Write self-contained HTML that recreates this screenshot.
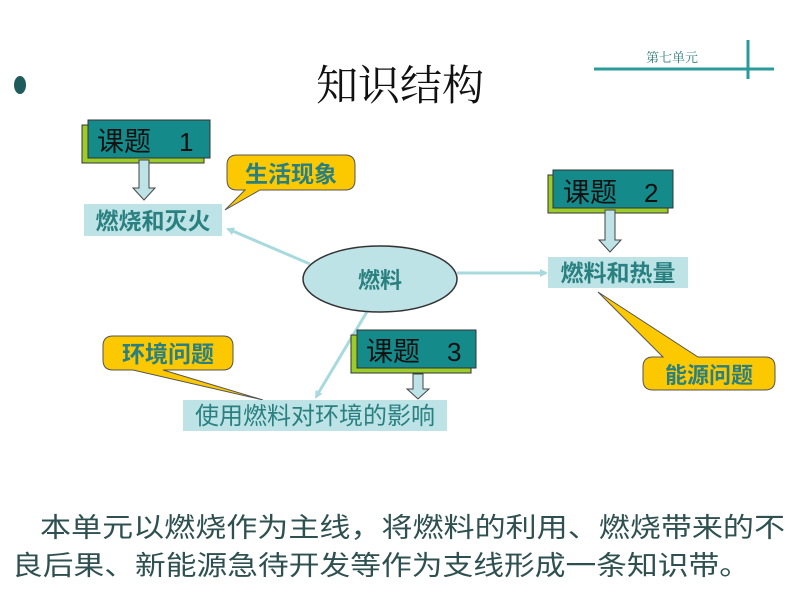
<!DOCTYPE html>
<html><head><meta charset="utf-8"><style>
html,body{margin:0;padding:0;background:#fff;width:800px;height:600px;overflow:hidden}
svg{display:block}
.cj{font-family:"Liberation Sans","Noto Sans CJK SC",sans-serif}
</style></head><body>
<svg width="800" height="600" viewBox="0 0 800 600" xmlns="http://www.w3.org/2000/svg" class="cj">
<defs>
<marker id="ah" markerWidth="8" markerHeight="8" refX="6" refY="4" orient="auto" markerUnits="userSpaceOnUse"><path d="M0,0 L8,4 L0,8 z" fill="#a8dadd"/></marker>
</defs>
<!-- header -->
<text x="672" y="62" font-size="13" fill="#2e7d7d" text-anchor="middle" style="font-family:'Noto Serif CJK SC',serif">第七单元</text>
<line x1="594" y1="69" x2="774" y2="69" stroke="#2a9a9a" stroke-width="3"/>
<line x1="748" y1="40" x2="748" y2="79" stroke="#2a9a9a" stroke-width="3"/>
<ellipse cx="20" cy="85" rx="6" ry="9" fill="#1e5b5b"/>
<text x="400" y="100" font-size="42" text-anchor="middle" fill="#111" style="font-family:'Noto Serif CJK SC',serif">知识结构</text>

<!-- lines -->
<line x1="310" y1="264" x2="228" y2="229" stroke="#a8dadd" stroke-width="3" marker-end="url(#ah)"/>
<line x1="457" y1="273" x2="546" y2="273" stroke="#a8dadd" stroke-width="3" marker-end="url(#ah)"/>
<line x1="368" y1="310" x2="316" y2="397" stroke="#a8dadd" stroke-width="3" marker-end="url(#ah)"/>

<!-- ellipse -->
<ellipse cx="380" cy="279" rx="77" ry="33" fill="#bde3e6" stroke="#333" stroke-width="1.5"/>
<text x="380" y="288" font-size="22" font-weight="bold" fill="#2a8080" text-anchor="middle">燃料</text>

<!-- 课题1 -->
<rect x="82" y="125" width="122" height="38" fill="#9ccc2a" stroke="#333"/>
<rect x="88" y="120" width="122" height="38" fill="#148a8a" stroke="#333"/>
<text x="97" y="151" font-size="27" fill="#111">课题</text><text x="179" y="151" font-size="26" fill="#111">1</text>
<path d="M139,160 h10 v28 h6 l-11,12 l-11,-12 h6 z" fill="#bde3e6" stroke="#444"/>
<rect x="84" y="204" width="138" height="32" fill="#bde3e6"/>
<text x="153" y="229" font-size="23" font-weight="bold" fill="#2a8080" text-anchor="middle">燃烧和灭火</text>

<!-- 生活现象 callout -->
<path d="M237,155 h108 q10,0 10,10 v15 q0,10 -10,10 h-85 l-35,20 l20,-20 h-8 q-10,0 -10,-10 v-15 q0,-10 10,-10 z" fill="#fcc800" stroke="#555"/>
<text x="291" y="182" font-size="23" font-weight="bold" fill="#2a8080" text-anchor="middle">生活现象</text>

<!-- 课题2 -->
<rect x="548" y="175" width="120" height="38" fill="#9ccc2a" stroke="#333"/>
<rect x="553" y="170" width="120" height="38" fill="#148a8a" stroke="#333"/>
<text x="563" y="202" font-size="27" fill="#111">课题</text><text x="644" y="202" font-size="26" fill="#111">2</text>
<path d="M605,210 h10 v30 h6 l-11,12 l-11,-12 h6 z" fill="#bde3e6" stroke="#444"/>
<rect x="548" y="257" width="140" height="31" fill="#bde3e6"/>
<text x="618" y="281" font-size="23" font-weight="bold" fill="#2a8080" text-anchor="middle">燃料和热量</text>

<!-- 能源问题 callout -->
<path d="M653,357 h10 l-65,-65 l100,65 h67 q10,0 10,10 v13 q0,10 -10,10 h-112 q-10,0 -10,-10 v-13 q0,-10 10,-10 z" fill="#fcc800" stroke="#555"/>
<text x="709" y="383" font-size="22" font-weight="bold" fill="#2a8080" text-anchor="middle">能源问题</text>

<!-- 环境问题 callout -->
<path d="M113,336 h110 q10,0 10,10 v14 q0,10 -10,10 h-60 l100,30 l-130,-30 h-20 q-10,0 -10,-10 v-14 q0,-10 10,-10 z" fill="#fcc800" stroke="#555"/>
<text x="168" y="362" font-size="23" font-weight="bold" fill="#2a8080" text-anchor="middle">环境问题</text>

<!-- 课题3 -->
<rect x="351" y="335" width="120" height="38" fill="#9ccc2a" stroke="#333"/>
<rect x="357" y="330" width="119" height="38" fill="#148a8a" stroke="#333"/>
<text x="366" y="361" font-size="27" fill="#111">课题</text><text x="447" y="361" font-size="26" fill="#111">3</text>
<path d="M413,374 h10 v15 h6 l-11,10 l-11,-10 h6 z" fill="#bde3e6" stroke="#444"/>
<rect x="183" y="400" width="264" height="31" fill="#bde3e6"/>
<text x="315" y="424" font-size="24" fill="#2a8080" text-anchor="middle">使用燃料对环境的影响</text>

<!-- bottom text -->
<text x="40" y="537" font-size="27" fill="#2f5050" textLength="745" lengthAdjust="spacingAndGlyphs">本单元以燃烧作为主线，将燃料的利用、燃烧带来的不</text>
<text x="12" y="575" font-size="27" fill="#2f5050" textLength="738" lengthAdjust="spacingAndGlyphs">良后果、新能源急待开发等作为支线形成一条知识带。</text>
</svg>
</body></html>
